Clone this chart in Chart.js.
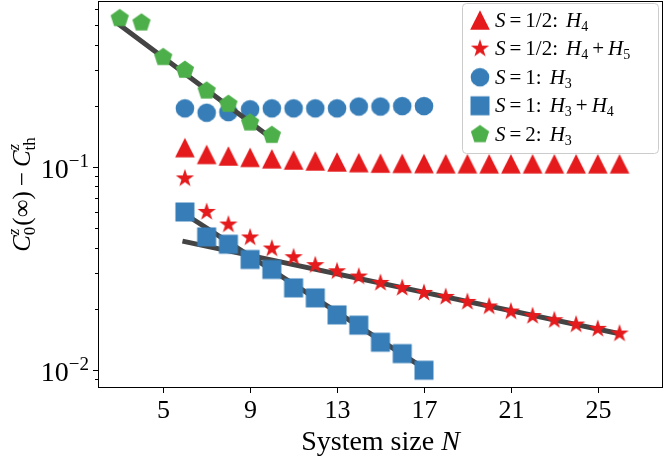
<!DOCTYPE html>
<html>
<head>
<meta charset="utf-8">
<script src="https://cdn.jsdelivr.net/npm/chart.js@4.4.1/dist/chart.umd.min.js"></script>
<style>
  html, body { margin: 0; padding: 0; background: #fff; }
  #wrap { width: 665px; height: 456px; }
</style>
</head>
<body>
<div id="wrap"><canvas id="chart" width="665" height="456"></canvas></div>
<script>
// ---- data ----
const xTicks = [5, 9, 13, 17, 21, 25];
const yMajorTicks = [0.01, 0.1];
const yMinorTicks = [0.009, 0.02, 0.03, 0.04, 0.05, 0.06, 0.07, 0.08, 0.09, 0.2, 0.3, 0.4, 0.5, 0.6];

// S = 1/2: H4  (triangles)
const triN = [6, 7, 8, 9, 10, 11, 12, 13, 14, 15, 16, 17, 18, 19, 20, 21, 22, 23, 24, 25, 26];
const triVals = [0.1243, 0.1151, 0.1131, 0.1113, 0.1095, 0.1081, 0.1069, 0.1057, 0.1049, 0.1043, 0.1040,
                 0.1038, 0.1036, 0.1036, 0.1035, 0.1035, 0.1035, 0.1035, 0.1035, 0.1035, 0.1035];

// S = 1/2: H4 + H5  (stars)
const starN = [6, 7, 8, 9, 10, 11, 12, 13, 14, 15, 16, 17, 18, 19, 20, 21, 22, 23, 24, 25, 26];
const starVals = [0.0877, 0.0600, 0.0520, 0.0449, 0.0396, 0.0359, 0.0328, 0.0306, 0.02884, 0.02683, 0.02532,
                  0.02394, 0.02289, 0.02163, 0.02053, 0.01939, 0.01843, 0.01757, 0.01673, 0.01594, 0.01511];

// S = 1: H3  (circles)
const circN = [6, 7, 8, 9, 10, 11, 12, 13, 14, 15, 16, 17];
const circVals = [0.194, 0.1846, 0.186, 0.192, 0.194, 0.194, 0.194, 0.194, 0.198, 0.198, 0.199, 0.199];

// S = 1: H3 + H4  (squares)
const sqN = [6, 7, 8, 9, 10, 11, 12, 13, 14, 15, 16, 17];
const sqVals = [0.05995, 0.04519, 0.04160, 0.03499, 0.03125, 0.02534, 0.02263, 0.01866, 0.01661, 0.01369, 0.01204, 0.00997];

// S = 2: H3  (pentagons)
const pentN = [3, 4, 5, 6, 7, 8, 9, 10];
const pentVals = [0.538, 0.512, 0.346, 0.2995, 0.2368, 0.2036, 0.1648, 0.1432];

// exponential fits (end points)
const fitStarN = [6, 26];
const fitStarVals = [0.0428, 0.01508];
const fitSqN = [6, 17];
const fitSqVals = [0.0585, 0.01019];
const fitPentN = [3, 10];
const fitPentVals = [0.499, 0.138];

// legend text pieces
const spins = ['1/2', '1/2', '1', '1', '2'];
const terms = [['4'], ['4', '5'], ['3'], ['3', '4'], ['3']];

const RED = '#e41a1c';
const BLUE = '#377eb8';
const GREEN = '#4daf4a';
const FIT = '#444444';
const SERIF = '"Liberation Serif", "DejaVu Serif", serif';

const toXY = (xs, ys) => xs.map((x, i) => ({ x: x, y: ys[i] }));

// ---- marker images ----
function markerCanvas(size, draw, color) {
  const c = document.createElement('canvas');
  c.width = size;
  c.height = size;
  const g = c.getContext('2d');
  g.translate(size / 2, size / 2);
  g.fillStyle = color;
  g.beginPath();
  draw(g);
  g.closePath();
  g.fill();
  return c;
}

function polyStar(g, pts, rOut, rIn) {
  const n = rIn ? pts * 2 : pts;
  for (let i = 0; i < n; i++) {
    const r = rIn && i % 2 ? rIn : rOut;
    const a = -Math.PI / 2 + i * 2 * Math.PI / n;
    const px = r * Math.cos(a), py = r * Math.sin(a);
    if (i === 0) g.moveTo(px, py); else g.lineTo(px, py);
  }
}

const triImg = markerCanvas(24, g => { g.moveTo(0, -9.7); g.lineTo(9.8, 9.7); g.lineTo(-9.8, 9.7); }, RED);
const starImg = markerCanvas(24, g => polyStar(g, 5, 9.6, 9.6 * 0.382), RED);
const circImg = markerCanvas(24, g => g.arc(0, 0, 9.3, 0, Math.PI * 2), BLUE);
const sqImg = markerCanvas(24, g => g.rect(-9.5, -9.5, 19, 19), BLUE);
const pentImg = markerCanvas(24, g => polyStar(g, 5, 9.6), GREEN);

function markers(label, xs, ys, img, order, legendIndex) {
  return {
    label: label,
    data: toXY(xs, ys),
    showLine: false,
    pointStyle: img,
    pointRadius: 10,
    order: order,
    legendIndex: legendIndex
  };
}

function fitLine(xs, ys) {
  return {
    label: 'fit',
    data: toXY(xs, ys),
    showLine: true,
    borderColor: FIT,
    borderWidth: 5,
    borderCapStyle: 'square',
    pointRadius: 0,
    order: 2
  };
}

// ---- rich text helper (italic / sub / superscript) ----
function setFont(ctx, p) {
  ctx.font = (p.i ? 'italic ' : '') + p.s + 'px ' + SERIF;
}

function richWidth(ctx, parts) {
  let w = 0, held = 0;
  for (const p of parts) {
    setFont(ctx, p);
    const pw = ctx.measureText(p.t).width;
    if (p.stack) { held = pw; continue; }
    w += Math.max(pw, held) + (p.gap || 0);
    held = 0;
  }
  return w;
}

function drawRich(ctx, parts, x, y, align) {
  const w = richWidth(ctx, parts);
  let cx = align === 'center' ? x - w / 2 : align === 'right' ? x - w : x;
  let held = 0;
  ctx.textAlign = 'left';
  ctx.textBaseline = 'alphabetic';
  for (const p of parts) {
    setFont(ctx, p);
    ctx.fillText(p.t, cx + (p.dx || 0), y + (p.dy || 0));
    const pw = ctx.measureText(p.t).width;
    if (p.stack) { held = pw; continue; }
    cx += Math.max(pw, held) + (p.gap || 0);
    held = 0;
  }
}

function legendParts(spin, subs) {
  const fs = 21;
  const parts = [
    { t: 'S', s: fs, i: true, gap: 4 },
    { t: '=', s: fs, gap: 4 },
    { t: spin + ':', s: fs, gap: 8 }
  ];
  subs.forEach((k, j) => {
    if (j > 0) parts.push({ t: '+', s: fs, gap: 4 });
    parts.push({ t: 'H', s: fs, i: true }, { t: k, s: 14, dy: 4, gap: 4 });
  });
  return parts;
}

// ---- axes, frame and legend drawn on top ----
const decorations = {
  id: 'decorations',
  afterDraw(chart) {
    const ctx = chart.ctx;
    const a = chart.chartArea;
    const xs = chart.scales.x;
    const ys = chart.scales.y;
    ctx.save();
    ctx.strokeStyle = '#000';
    ctx.fillStyle = '#000';
    ctx.lineWidth = 1;

    // frame
    ctx.strokeRect(Math.round(a.left) + 0.5, Math.round(a.top) + 0.5,
      Math.round(a.right - a.left) - 1, Math.round(a.bottom - a.top) - 1);

    // x ticks + labels
    xTicks.forEach(v => {
      const px = Math.round(xs.getPixelForValue(v)) + 0.5;
      ctx.beginPath();
      ctx.moveTo(px, a.bottom);
      ctx.lineTo(px, a.bottom + 5);
      ctx.stroke();
      drawRich(ctx, [{ t: String(v), s: 26 }], px, a.bottom + 30, 'center');
    });

    // y ticks + labels
    yMinorTicks.forEach(v => {
      const py = Math.round(ys.getPixelForValue(v)) + 0.5;
      ctx.beginPath();
      ctx.moveTo(a.left - 3, py);
      ctx.lineTo(a.left, py);
      ctx.stroke();
    });
    yMajorTicks.forEach(v => {
      const py = Math.round(ys.getPixelForValue(v)) + 0.5;
      ctx.beginPath();
      ctx.moveTo(a.left - 5, py);
      ctx.lineTo(a.left, py);
      ctx.stroke();
      const exp = Math.round(Math.log10(v));
      drawRich(ctx, [{ t: '10', s: 28 }, { t: '\u2212' + Math.abs(exp), s: 19, dy: -11 }],
        a.left - 9, py + 10, 'right');
    });

    // axis titles
    drawRich(ctx, [{ t: 'System size ', s: 28 }, { t: 'N', s: 28, i: true }],
      (a.left + a.right) / 2, 450, 'center');

    ctx.save();
    ctx.translate(30, (a.top + a.bottom) / 2);
    ctx.rotate(-Math.PI / 2);
    drawRich(ctx, [
      { t: 'C', s: 25, i: true },
      { t: 'z', s: 17, i: true, dy: -11, stack: true },
      { t: '0', s: 17, dy: 5, gap: 1 },
      { t: '(\u221e)', s: 25, gap: 5 },
      { t: '\u2212', s: 25, gap: 5 },
      { t: 'C', s: 25, i: true },
      { t: 'z', s: 17, i: true, dy: -11, stack: true },
      { t: 'th', s: 17, dy: 5 }
    ], 0, 0, 'center');
    ctx.restore();

    // legend
    const lx = 462, ly = 3, lw = 196, lh = 150;
    ctx.fillStyle = 'rgba(255,255,255,0.8)';
    ctx.strokeStyle = '#cccccc';
    ctx.beginPath();
    ctx.roundRect(lx + 0.5, ly + 0.5, lw, lh, 4);
    ctx.fill();
    ctx.stroke();
    ctx.fillStyle = '#000';
    const shown = chart.data.datasets.filter(d => d.label !== 'fit');
    shown.sort((p, q) => p.legendIndex - q.legendIndex);
    shown.forEach((d, k) => {
      const cy = 20 + k * 28.6;
      const img = d.pointStyle;
      ctx.drawImage(img, 480 - img.width / 2, cy - img.height / 2);
      drawRich(ctx, legendParts(spins[k], terms[k]), 495, cy + 6.5, 'left');
    });
    ctx.restore();
  }
};

const datasets = [
  markers('S = 1/2: H4', triN, triVals, triImg, 1, 0),
  markers('S = 1/2: H4 + H5', starN, starVals, starImg, 1, 1),
  markers('S = 1: H3', circN, circVals, circImg, 3, 2),
  markers('S = 1: H3 + H4', sqN, sqVals, sqImg, 1, 3),
  markers('S = 2: H3', pentN, pentVals, pentImg, 1, 4),
  fitLine(fitStarN, fitStarVals),
  fitLine(fitSqN, fitSqVals),
  fitLine(fitPentN, fitPentVals)
];

new Chart(document.getElementById('chart'), {
  type: 'scatter',
  data: { datasets: datasets },
  options: {
    responsive: false,
    animation: false,
    devicePixelRatio: 1,
    layout: { autoPadding: false, padding: { left: 0, right: 2, top: 1, bottom: 0 } },
    scales: {
      x: {
        type: 'linear',
        min: 2,
        max: 28,
        grid: { display: false },
        border: { display: false },
        ticks: { display: false },
        afterFit: s => { s.height = 68; }
      },
      y: {
        type: 'logarithmic',
        min: 0.00815,
        max: 0.655,
        grid: { display: false },
        border: { display: false },
        ticks: { display: false },
        afterFit: s => { s.width = 98; }
      }
    },
    clip: false,
    plugins: {
      legend: { display: false },
      tooltip: { enabled: false }
    }
  },
  plugins: [decorations]
});
</script>
</body>
</html>
